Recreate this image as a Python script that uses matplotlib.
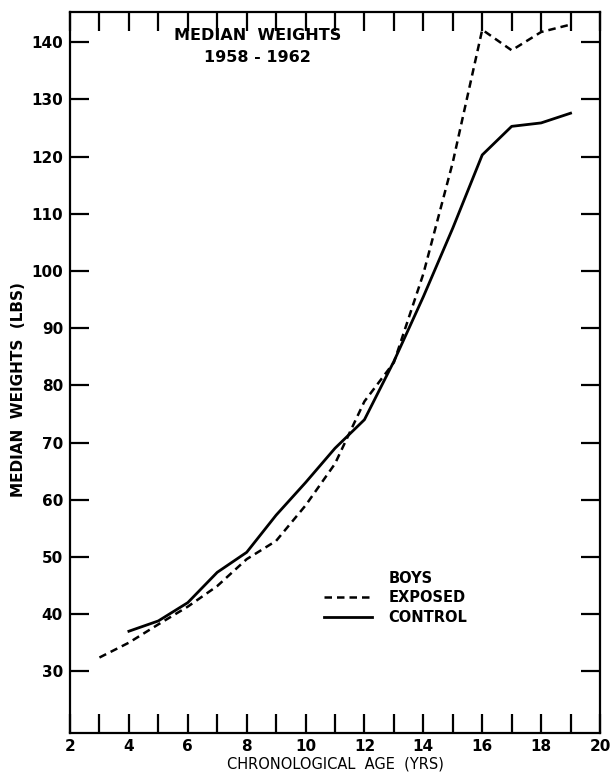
import matplotlib
matplotlib.use("Agg")
import matplotlib.pyplot as plt
from matplotlib.lines import Line2D
from matplotlib.ticker import FixedLocator, FuncFormatter

# Data
exposed_age = [3, 4, 5, 6, 7, 8, 9, 10, 11, 12, 13, 14, 15, 16, 17, 18, 19]
exposed_wt = [32.4, 35.0, 38.2, 41.3, 44.9, 49.6, 52.8, 59.0, 66.3, 77.2, 84.0, 99.5, 119.0, 142.2, 138.6, 141.8, 143.1]
control_age = [4, 5, 6, 7, 8, 9, 10, 11, 12, 13, 14, 15, 16, 17, 18, 19]
control_wt = [37.0, 38.8, 42.0, 47.3, 50.8, 57.3, 63.0, 69.0, 74.0, 84.2, 95.5, 107.5, 120.3, 125.3, 125.9, 127.6]
x_ticks = list(range(2, 21))
x_labels = ["2", "", "4", "", "6", "", "8", "", "10", "", "12", "", "14", "", "16", "", "18", "", "20"]
y_ticks = [30, 40, 50, 60, 70, 80, 90, 100, 110, 120, 130, 140]

plt.rcParams['font.family'] = ['DejaVu Sans']
plt.rcParams['font.weight'] = 'bold'

fig = plt.figure(figsize=(6.15, 7.77), dpi=100)
ax = fig.add_axes([70/615, 1-733/777, 530/615, (733-12)/777])

ax.plot(exposed_age, exposed_wt, color='black', lw=1.8, linestyle=(0, (3.0, 2.0)), label='EXPOSED')
ax.plot(control_age, control_wt, color='black', lw=2.0, linestyle='-', label='CONTROL')

ax.set_xlim(2, 20)
ax.set_ylim(19.2, 145.3)

ax.xaxis.set_major_locator(FixedLocator(x_ticks))
ax.xaxis.set_major_formatter(FuncFormatter(lambda v, p: x_labels[int(round(v)) - 2] if 2 <= round(v) <= 20 else ""))
ax.set_yticks(y_ticks)
ax.tick_params(axis='x', which='major', direction='in', length=14, width=1.6,
               top=True, bottom=True, labelsize=11, pad=4)
ax.tick_params(axis='y', which='major', direction='in', length=14, width=1.6,
               left=True, right=True, labelsize=11, pad=5)
for lbl in ax.get_xticklabels() + ax.get_yticklabels():
    lbl.set_fontweight('bold')
for sp in ax.spines.values():
    sp.set_linewidth(1.6)

ax.set_xlabel('CHRONOLOGICAL  AGE  (YRS)', fontsize=10.5, fontweight='normal', labelpad=2)
ax.set_ylabel('MEDIAN  WEIGHTS  (LBS)', fontsize=11, fontweight='bold')
ax.yaxis.set_label_coords(-0.083, (733 - 390) / 721)

ax.text(8.36, 141.2, 'MEDIAN  WEIGHTS', ha='center', va='center', fontsize=11.5, fontweight='bold')
ax.text(8.36, 137.4, '1958 - 1962', ha='center', va='center', fontsize=11.5, fontweight='bold')

handles, labels = ax.get_legend_handles_labels()
blank = Line2D([], [], linestyle='none')
leg = ax.legend([blank] + handles, ['BOYS'] + labels, frameon=False,
                loc='upper left', bbox_to_anchor=(0.455, 0.243),
                handlelength=3.3, handletextpad=1.1, labelspacing=0.3,
                prop={'size': 10.5, 'weight': 'bold'})

fig.savefig('out.png', dpi=100)
